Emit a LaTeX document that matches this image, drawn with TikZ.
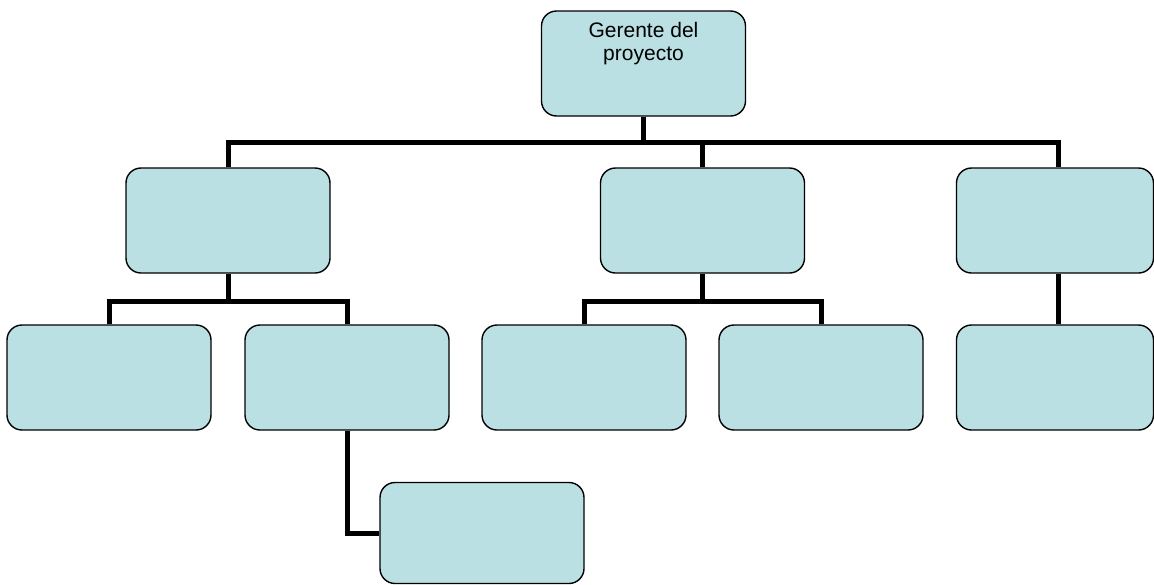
\documentclass[tikz,border=0pt]{standalone}
\usepackage{fontspec}
\setmainfont{Liberation Sans}
\usetikzlibrary{backgrounds}
\definecolor{boxfill}{RGB}{186,224,227}
\begin{document}
\begin{tikzpicture}[x=1pt,y=-1pt,
  orgbox/.style={draw=black, line width=1.4pt, fill=boxfill, rounded corners=15pt,
    minimum width=204pt, minimum height=105pt, inner sep=0pt},
  conn/.style={draw=black, line width=5pt, line join=miter},
  boxtext/.style={font=\fontsize{21}{23}\selectfont, align=center, inner sep=0pt, anchor=north}]
  \useasboundingbox (0,0) rectangle (1154,584);
  \clip (0,0) rectangle (1154,584);

  % heights of the horizontal bus lines, and the right-hand column
  \coordinate (bus1) at (643.5,142);
  \coordinate (bus2) at (228,301);
  \coordinate (bus3) at (702.5,301);
  \coordinate (rcol) at (1058.5,0);

  % boxes
  \node[orgbox] (top) at (643.5,63.5) {};
  \node[orgbox] (aa) at (228,220.5) {};
  \node[orgbox] (ab) at (702.5,220.5) {};
  \node[orgbox, minimum width=197pt] (ac) at (1055,220.5) {};
  \node[orgbox] (ba) at (109,377.5) {};
  \node[orgbox] (bb) at (347,377.5) {};
  \node[orgbox] (bc) at (584,377.5) {};
  \node[orgbox] (bd) at (821,377.5) {};
  \node[orgbox, minimum width=197pt] (be) at (1055,377.5) {};
  \node[orgbox, minimum height=101pt] (ca) at (482,533) {};
  \node[boxtext] (toptext) at (643.5,22) {Gerente del\\proyecto};

  % connectors, drawn beneath the boxes
  \begin{scope}[on background layer]
    \draw[conn] (top.south) -- (top.south |- bus1);
    \draw[conn] (aa.north) |- (rcol |- bus1) -- (ac.north -| rcol);
    \draw[conn] (ab.north) -- (ab.north |- bus1);

    \draw[conn] (aa.south) -- (aa.south |- bus2);
    \draw[conn] (ba.north) |- (bb.north |- bus2) -- (bb.north);

    \draw[conn] (ab.south) -- (ab.south |- bus3);
    \draw[conn] (bc.north) |- (bd.north |- bus3) -- (bd.north);

    \draw[conn] (ac.south -| rcol) -- (be.north -| rcol);

    \draw[conn] (bb.south) |- (ca.west);
  \end{scope}
\end{tikzpicture}
\end{document}
